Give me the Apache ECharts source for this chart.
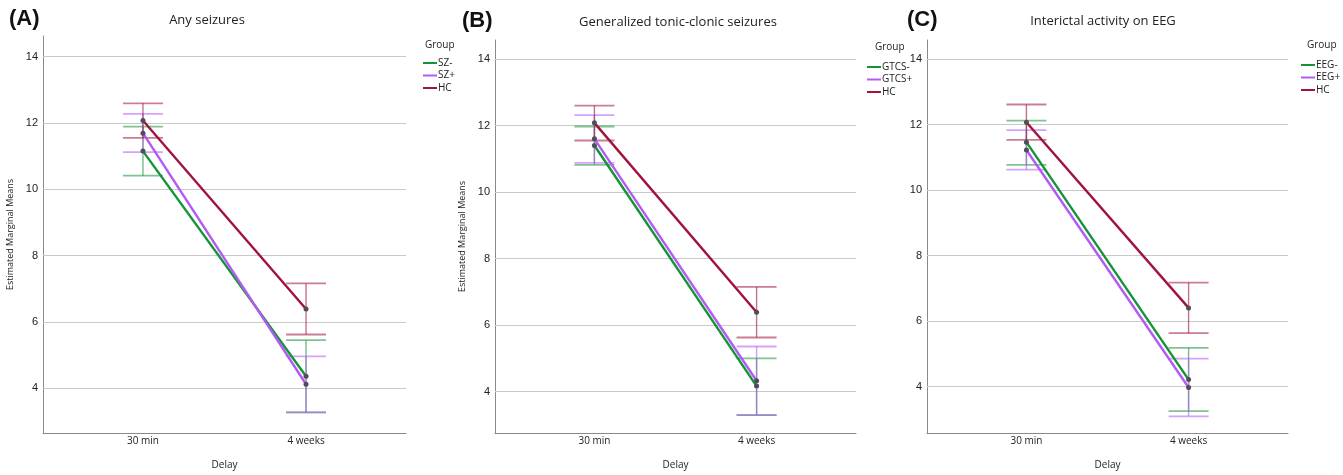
<!DOCTYPE html>
<html><head><meta charset="utf-8">
<script src="https://cdn.jsdelivr.net/npm/echarts@6/dist/echarts.min.js"></script>
<style>html,body{margin:0;padding:0;background:#fff}#c{width:1343px;height:475px}</style>
</head><body><div id="c"></div>
<script>
const categories = ['30 min', '4 weeks'];
const yTicks = [4, 6, 8, 10, 12, 14];
const panelLetters = ['(A)', '(B)', '(C)'];
const panelTitles = ['Any seizures', 'Generalized tonic-clonic seizures', 'Interictal activity on EEG'];
const groupsA = ['SZ-', 'SZ+', 'HC'];
const groupsB = ['GTCS-', 'GTCS+', 'HC'];
const groupsC = ['EEG-', 'EEG+', 'HC'];

// Panel A: means, CI lower, CI upper (30 min, 4 weeks)
const meanA_neg = [11.15, 4.36], loA_neg = [10.41, 3.27], hiA_neg = [11.89, 5.45];
const meanA_pos = [11.69, 4.12], loA_pos = [11.12, 3.27], hiA_pos = [12.27, 4.96];
const meanA_hc  = [12.07, 6.39], loA_hc  = [11.55, 5.62], hiA_hc  = [12.59, 7.16];
// Panel B
const meanB_neg = [11.40, 4.17], loB_neg = [10.82, 3.30], hiB_neg = [11.97, 5.00];
const meanB_pos = [11.60, 4.33], loB_pos = [10.88, 3.30], hiB_pos = [12.31, 5.36];
const meanB_hc  = [12.08, 6.39], loB_hc  = [11.55, 5.63], hiB_hc  = [12.60, 7.15];
// Panel C
const meanC_neg = [11.46, 4.21], loC_neg = [10.77, 3.25], hiC_neg = [12.12, 5.18];
const meanC_pos = [11.22, 3.97], loC_pos = [10.62, 3.09], hiC_pos = [11.83, 4.85];
const meanC_hc  = [12.07, 6.40], loC_hc  = [11.53, 5.63], hiC_hc  = [12.61, 7.17];

const colors = ['#159437', '#b25af6', '#a0133d'];
const font = 'Liberation Sans, Arial, sans-serif';
const font2 = 'Open Sans, Noto Sans, sans-serif';

const panels = [
  {groups: groupsA, means: [meanA_neg, meanA_pos, meanA_hc], lo: [loA_neg, loA_pos, loA_hc], hi: [hiA_neg, hiA_pos, hiA_hc],
   grid: {left: 43, top: 36, width: 363, height: 404}, ymin: 2.65, ymax: 14.62, yname: 'Estimated Marginal Means',
   letter: [9, 8], titleX: 207, titleY: 14, legX: 423, legY: 58, groupX: 425, groupY: 40},
  {groups: groupsB, means: [meanB_neg, meanB_pos, meanB_hc], lo: [loB_neg, loB_pos, loB_hc], hi: [hiB_neg, hiB_pos, hiB_hc],
   grid: {left: 495, top: 40, width: 361, height: 398}, ymin: 2.76, ymax: 14.57, yname: 'Estimated Marginal Means',
   letter: [462, 10], titleX: 678, titleY: 16, legX: 867, legY: 62, groupX: 875, groupY: 42},
  {groups: groupsC, means: [meanC_neg, meanC_pos, meanC_hc], lo: [loC_neg, loC_pos, loC_hc], hi: [hiC_neg, hiC_pos, hiC_hc],
   grid: {left: 927, top: 40, width: 361, height: 397}, ymin: 2.58, ymax: 14.58, yname: '',
   letter: [907, 9], titleX: 1103, titleY: 15, legX: 1301, legY: 60, groupX: 1307, groupY: 40}
];

const grids = [], xAxes = [], yAxes = [], series = [], legends = [], titles = [], graphics = [];
panels.forEach((p, pi) => {
  grids.push(Object.assign({}, p.grid));
  xAxes.push({
    type: 'value', gridIndex: pi, min: -0.613, max: 1.613,
    name: 'Delay', nameLocation: 'middle', nameGap: 27,
    nameTextStyle: {fontFamily: font2, fontSize: 10, color: '#222'},
    axisLine: {show: true, onZero: false, lineStyle: {color: '#8a8a8a', width: 1}},
    axisTick: {show: false}, splitLine: {show: false},
    axisLabel: {customValues: [0, 1], formatter: v => categories[Math.round(v)], fontFamily: font2, fontSize: 10, color: '#222', margin: 3}
  });
  yAxes.push({
    type: 'value', gridIndex: pi, min: p.ymin, max: p.ymax,
    name: p.yname, nameLocation: 'middle', nameGap: 28,
    nameTextStyle: {fontFamily: font2, fontSize: 9, color: '#222'},
    axisLine: {show: true, onZero: false, lineStyle: {color: '#8a8a8a', width: 1}},
    axisTick: {show: false}, splitLine: {show: false},
    axisLabel: {customValues: yTicks, fontFamily: font, fontSize: 11, color: '#222', margin: 5}
  });
  // gridlines
  series.push({
    type: 'line', xAxisIndex: pi, yAxisIndex: pi, data: [], silent: true,
    markLine: {silent: true, symbol: ['none', 'none'], z: 1, label: {show: false},
      lineStyle: {color: '#c9c9c9', width: 1.2, type: 'solid'},
      emphasis: {disabled: true},
      data: yTicks.map(v => ({yAxis: v}))}
  });
  // error bars
  p.groups.forEach((g, gi) => {
    series.push({
      type: 'custom', xAxisIndex: pi, yAxisIndex: pi, z: 2, silent: true,
      data: categories.map((c, ci) => [ci, p.lo[gi][ci], p.hi[gi][ci]]),
      renderItem: (params, api) => {
        const top = api.coord([api.value(0), api.value(2)]);
        const bot = api.coord([api.value(0), api.value(1)]);
        const hw = 20;
        const st = {stroke: colors[gi], lineWidth: 1.4, opacity: 0.6};
        const cs = {stroke: colors[gi], lineWidth: 1.8, opacity: 0.55};
        return {type: 'group', children: [
          {type: 'line', shape: {x1: top[0], y1: top[1], x2: bot[0], y2: bot[1]}, style: st},
          {type: 'line', shape: {x1: top[0] - hw, y1: top[1], x2: top[0] + hw, y2: top[1]}, style: cs},
          {type: 'line', shape: {x1: bot[0] - hw, y1: bot[1], x2: bot[0] + hw, y2: bot[1]}, style: cs}
        ]};
      }
    });
  });
  // mean lines
  p.groups.forEach((g, gi) => {
    series.push({
      type: 'line', name: g, xAxisIndex: pi, yAxisIndex: pi, z: 3 + gi,
      data: categories.map((c, ci) => [ci, p.means[gi][ci]]),
      symbol: 'circle', symbolSize: 5, showSymbol: true,
      lineStyle: {color: colors[gi], width: 2.4},
      itemStyle: {color: '#4e4e5a'},
      emphasis: {disabled: true}, animation: false
    });
  });
  legends.push({
    orient: 'vertical', left: p.legX, top: p.legY, itemGap: 2.5, padding: 0,
    itemWidth: 14, itemHeight: 10, selectedMode: false,
    icon: 'path://M0,4 L14,4 L14,6 L0,6 Z',
    textStyle: {fontFamily: font2, fontSize: 10, color: '#222', padding: [0, 0, 0, -4]},
    data: p.groups.map((g, gi) => ({name: g, itemStyle: {color: colors[gi]}}))
  });
  titles.push({text: panelTitles[pi], left: p.titleX, top: p.titleY, textAlign: 'center', padding: 0,
    textStyle: {fontFamily: font2, fontSize: 13, fontWeight: 'normal', color: '#222'}});
  graphics.push({type: 'text', left: p.letter[0], top: p.letter[1],
    style: {text: panelLetters[pi], fontFamily: font, fontSize: 22, fontWeight: 'bold', fill: '#111'}});
  graphics.push({type: 'text', left: p.groupX, top: p.groupY,
    style: {text: 'Group', fontFamily: font2, fontSize: 10, fill: '#222'}});
});

const chart = echarts.init(document.getElementById('c'), null, {renderer: 'canvas'});
chart.setOption({
  animation: false, backgroundColor: '#fff',
  grid: grids, xAxis: xAxes, yAxis: yAxes, series: series,
  legend: legends, title: titles, graphic: graphics
});
</script></body></html>
